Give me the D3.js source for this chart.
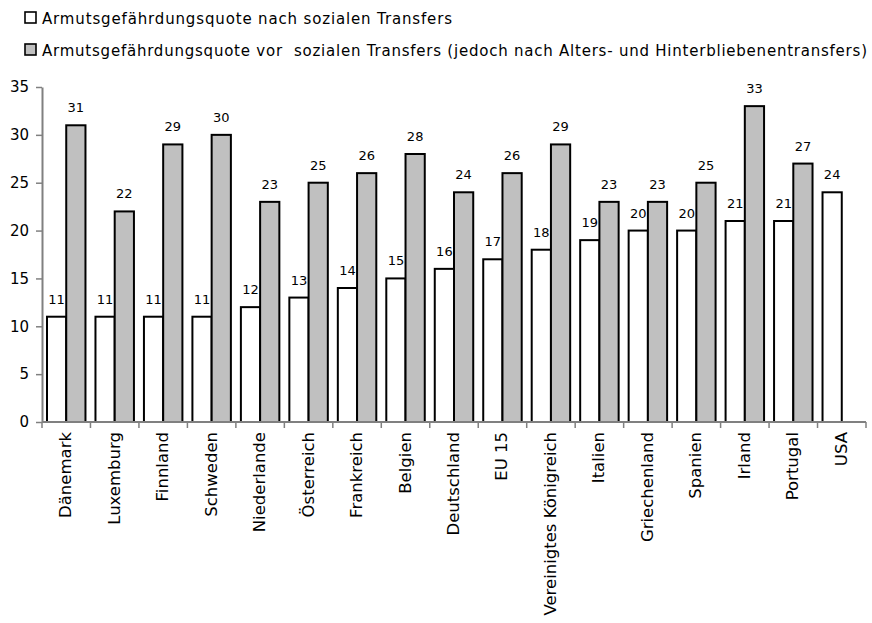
<!DOCTYPE html>
<html>
<head>
<meta charset="utf-8">
<script src="https://cdn.jsdelivr.net/npm/d3@7"></script>
<style>
  html, body { margin: 0; padding: 0; background: #fff; }
  svg { display: block; font-family: "DejaVu Sans", sans-serif; }
</style>
</head>
<body>
<svg id="chart" width="872" height="623"></svg>
<script>
// Poverty risk rates (%) by country
const countries = ["Dänemark", "Luxemburg", "Finnland", "Schweden", "Niederlande", "Österreich",
  "Frankreich", "Belgien", "Deutschland", "EU 15", "Vereinigtes Königreich", "Italien",
  "Griechenland", "Spanien", "Irland", "Portugal", "USA"];
const afterTransfers = [11, 11, 11, 11, 12, 13, 14, 15, 16, 17, 18, 19, 20, 20, 21, 21, 24];
const beforeTransfers = [31, 22, 29, 30, 23, 25, 26, 28, 24, 26, 29, 23, 23, 25, 33, 27, null];
const seriesNames = [
  "Armutsgefährdungsquote nach sozialen Transfers",
  "Armutsgefährdungsquote vor  sozialen Transfers (jedoch nach Alters- und Hinterbliebenentransfers)"
];
const seriesFill = ["#ffffff", "#c0c0c0"];
const yTicks = [0, 5, 10, 15, 20, 25, 30, 35];

const svg = d3.select("#chart");
const plot = { left: 42, right: 866, top: 87, bottom: 422 };

const x0 = d3.scaleBand().domain(countries).range([plot.left, plot.right]).paddingInner(0).paddingOuter(0);
const x1 = d3.scaleBand().domain([0, 1]).range([0, x0.bandwidth()]).paddingInner(0).paddingOuter(0.26);
const y = d3.scaleLinear().domain([0, 35]).range([plot.bottom, plot.top]);

const rows = countries.map((c, i) => ({ country: c, values: [afterTransfers[i], beforeTransfers[i]] }));

// Bars
const groups = svg.append("g").selectAll("g").data(rows).join("g")
  .attr("transform", d => `translate(${x0(d.country)},0)`);

groups.selectAll("rect")
  .data(d => d.values.map((v, k) => ({ k, v })).filter(e => e.v != null))
  .join("rect")
  .attr("x", e => x1(e.k))
  .attr("y", e => y(e.v))
  .attr("width", x1.bandwidth())
  .attr("height", e => y(0) - y(e.v))
  .attr("fill", e => seriesFill[e.k])
  .attr("stroke", "#000")
  .attr("stroke-width", 2);

// Value labels
groups.selectAll("text.val")
  .data(d => d.values.map((v, k) => ({ k, v })).filter(e => e.v != null))
  .join("text")
  .attr("class", "val")
  .attr("x", e => x1(e.k) + x1.bandwidth() / 2)
  .attr("y", e => y(e.v) - 13)
  .attr("text-anchor", "middle")
  .attr("font-size", 13)
  .attr("fill", "#000")
  .text(e => e.v);

// Y axis
const yAxis = svg.append("g")
  .attr("transform", `translate(${plot.left},0)`)
  .call(d3.axisLeft(y).tickValues(yTicks).tickSize(6).tickPadding(7).tickSizeOuter(0));
yAxis.select(".domain").attr("stroke", "#808080").attr("stroke-width", 2);
yAxis.selectAll(".tick line").attr("stroke", "#808080").attr("stroke-width", 1.5);
yAxis.selectAll(".tick text").attr("font-size", 15).attr("font-family", "DejaVu Sans, sans-serif").attr("fill", "#000");

// X axis: baseline with ticks at category boundaries
const xAxis = svg.append("g").attr("transform", `translate(0,${plot.bottom})`);
xAxis.append("line")
  .attr("x1", plot.left).attr("x2", plot.right)
  .attr("stroke", "#808080").attr("stroke-width", 2);
const bounds = countries.map(c => x0(c)).concat([plot.right]);
xAxis.selectAll("line.tk").data(bounds).join("line")
  .attr("class", "tk")
  .attr("x1", d => d).attr("x2", d => d)
  .attr("y1", 0).attr("y2", 6)
  .attr("stroke", "#808080").attr("stroke-width", 1.5);
xAxis.selectAll("text").data(countries).join("text")
  .attr("transform", d => `translate(${x0(d) + x0.bandwidth() / 2 + 5},10) rotate(-90)`)
  .attr("text-anchor", "end")
  .attr("font-size", 16.5)
  .attr("fill", "#000")
  .text(d => d);

// Legend
const legendWidths = [410, 825];
const legend = svg.append("g");
seriesNames.forEach((name, i) => {
  const yy = 12 + i * 32;
  legend.append("rect")
    .attr("x", 25).attr("y", yy)
    .attr("width", 11).attr("height", 11)
    .attr("fill", seriesFill[i]).attr("stroke", "#000").attr("stroke-width", 1.6);
  legend.append("text")
    .attr("x", 42).attr("y", yy + 12)
    .attr("font-size", 15)
    .attr("fill", "#000")
    .attr("textLength", legendWidths[i])
    .attr("lengthAdjust", "spacing")
    .style("white-space", "pre")
    .text(name);
});
</script>
</body>
</html>
